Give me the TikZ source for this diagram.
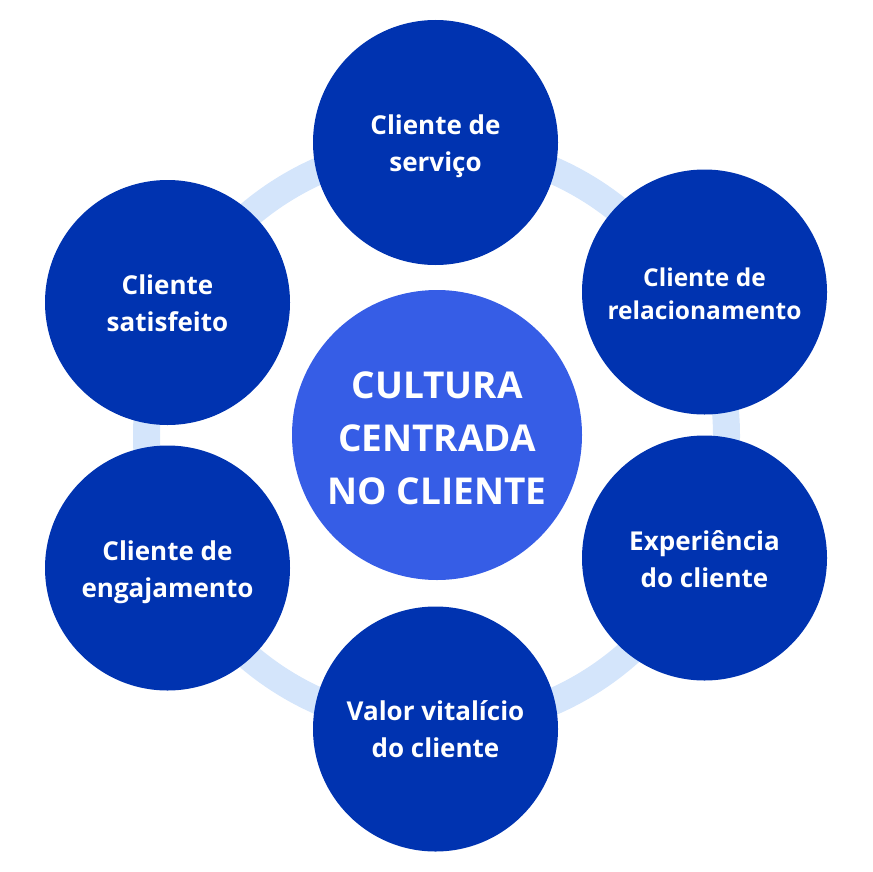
\documentclass[tikz,border=0pt]{standalone}
\usepackage{fontspec}
\setmainfont{Open Sans}
\definecolor{outerblue}{HTML}{0033B0}
\definecolor{centerblue}{HTML}{365DE6}
\definecolor{ringblue}{HTML}{D4E5FB}
\begin{document}
\begin{tikzpicture}[x=1pt,y=-1pt,
  outer/.style={circle,fill=outerblue,minimum size=245pt,inner sep=0pt},
  hub/.style={circle,fill=centerblue,minimum size=290pt,inner sep=0pt},
  txt/.style={text=white,align=center,inner sep=0pt,font=\bfseries\fontsize{26}{37}\selectfont},
  hubtxt/.style={text=white,align=center,inner sep=0pt,font=\bfseries\fontsize{37}{53}\selectfont}]
\useasboundingbox (0,0) rectangle (872,872);
\coordinate (o) at (436.5,436);
\draw[ringblue,line width=27pt] (o) circle[radius=290];
\node[hub] (c) at (437,435) {};
\node[hubtxt] (ct) at ([yshift=-3pt]c.center) {CULTURA\\CENTRADA\\NO CLIENTE};
\node[outer] (n1) at (435.5,142.5) {};
\node[txt] (t1) at ([yshift=-4pt]n1.center) {Cliente de\\serviço};
\node[outer] (n2) at (704.5,292) {};
\node[txt,font=\bfseries\fontsize{24.5}{33}\selectfont] (t2) at ([yshift=-1.5pt]n2.center) {Cliente de\\relacionamento};
\node[outer] (n3) at (704.5,558) {};
\node[txt] (t3) at ([yshift=-1pt]n3.center) {Experiência\\do cliente};
\node[outer] (n4) at (435.5,729) {};
\node[txt] (t4) at ([yshift=-0.5pt]n4.center) {Valor vitalício\\do cliente};
\node[outer] (n5) at (167.5,568) {};
\node[txt] (t5) at ([yshift=-4pt]n5.center) {Cliente de\\engajamento};
\node[outer] (n6) at (167.5,302.5) {};
\node[txt] (t6) at ([yshift=-1pt]n6.center) {Cliente\\satisfeito};
\end{tikzpicture}
\end{document}
